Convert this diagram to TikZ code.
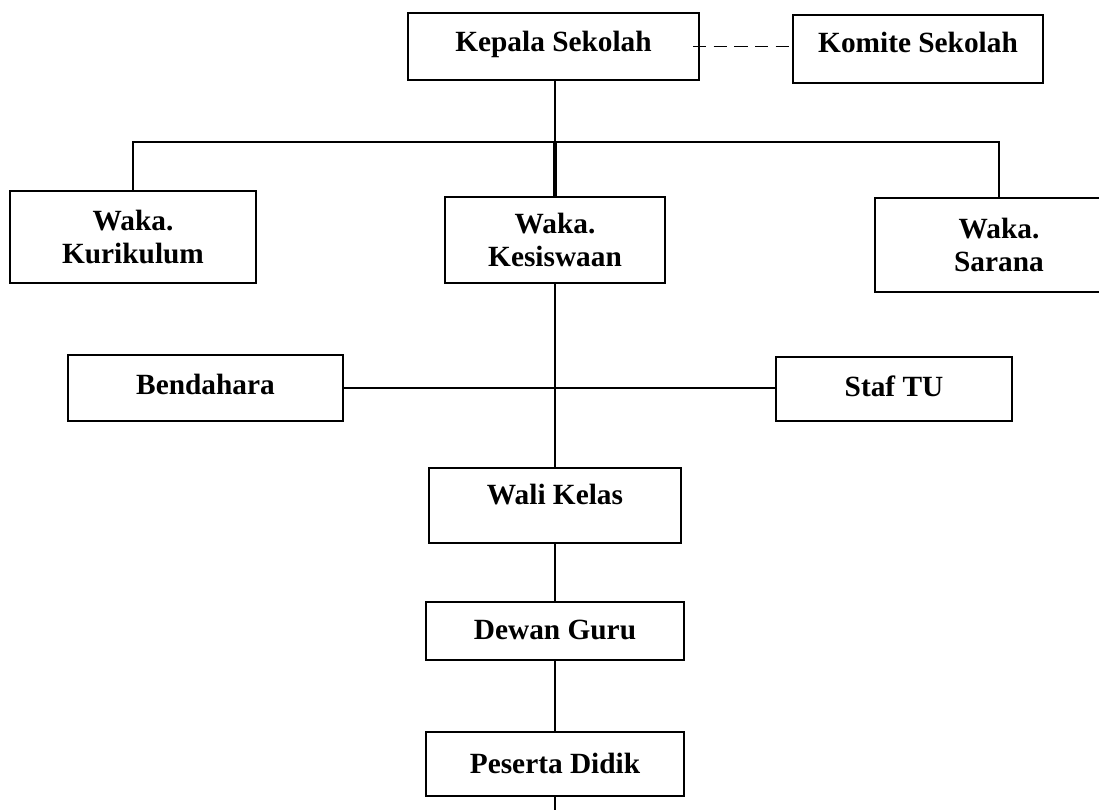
\documentclass[tikz,border=0pt]{standalone}
\usepackage{fontspec}
\setmainfont{Liberation Serif}
\begin{document}
\begin{tikzpicture}[x=0.75pt,y=-0.75pt,
  box/.style={draw,line width=1.5pt,rectangle,inner sep=0pt,align=center,
    font=\bfseries\fontsize{22}{24.5}\selectfont},
  one/.style={text height=14.6pt,text depth=#1},
  conn/.style={line width=1.2pt},
  thickconn/.style={line width=2.3pt},
  dashline/.style={line width=1.4pt,dash pattern=on 10pt off 5.5pt}]
\useasboundingbox (0,0) rectangle (1099,810);
\node[box,one=7.2pt,minimum width=291*0.75pt,minimum height=67*0.75pt] (kepala) at (553.5,46.5) {Kepala Sekolah};
\node[box,one=9.4pt,minimum width=250*0.75pt,minimum height=68*0.75pt] (komite) at (918,49) {Komite Sekolah};
\node[box,minimum width=246*0.75pt,minimum height=92*0.75pt] (kurikulum) at (133,237) {Waka.\\Kurikulum};
\node[box,minimum width=220*0.75pt,minimum height=86*0.75pt] (kesiswaan) at (555,240) {Waka.\\Kesiswaan};
\node[box,minimum width=248*0.75pt,minimum height=94*0.75pt] (sarana) at (999,245) {Waka.\\Sarana};
\node[box,one=4.9pt,minimum width=275*0.75pt,minimum height=66*0.75pt] (bendahara) at (205.5,388) {Bendahara};
\node[box,one=3.4pt,minimum width=236*0.75pt,minimum height=64*0.75pt] (staf) at (894,389) {Staf TU};
\node[box,one=16.2pt,minimum width=252*0.75pt,minimum height=75*0.75pt] (wali) at (555,505.5) {Wali Kelas};
\node[box,one=1.9pt,minimum width=258*0.75pt,minimum height=58*0.75pt] (dewan) at (555,631) {Dewan Guru};
\node[box,one=1pt,minimum width=258*0.75pt,minimum height=64*0.75pt] (peserta) at (555,764) {Peserta Didik};
\coordinate (bus) at (555,142);
\coordinate (bottom) at (555,810);
\draw[dashline] ([xshift=-5.25pt]kepala.east) -- (komite.west |- kepala.east);
\draw[conn] (bus |- kepala.south) -- (bus);
\draw[conn] (kurikulum.north) -- (kurikulum.north |- bus) -- (sarana.north |- bus) -- (sarana.north);
\draw[thickconn] (bus) -- (bus |- kesiswaan.north);
\draw[conn] (kesiswaan.south) -- (wali.north);
\draw[conn] (bendahara.east) -- (staf.west |- bendahara.east);
\draw[conn] (wali.south) -- (dewan.north);
\draw[conn] (dewan.south) -- (peserta.north);
\draw[conn] (peserta.south) -- (bottom);
\end{tikzpicture}
\end{document}
